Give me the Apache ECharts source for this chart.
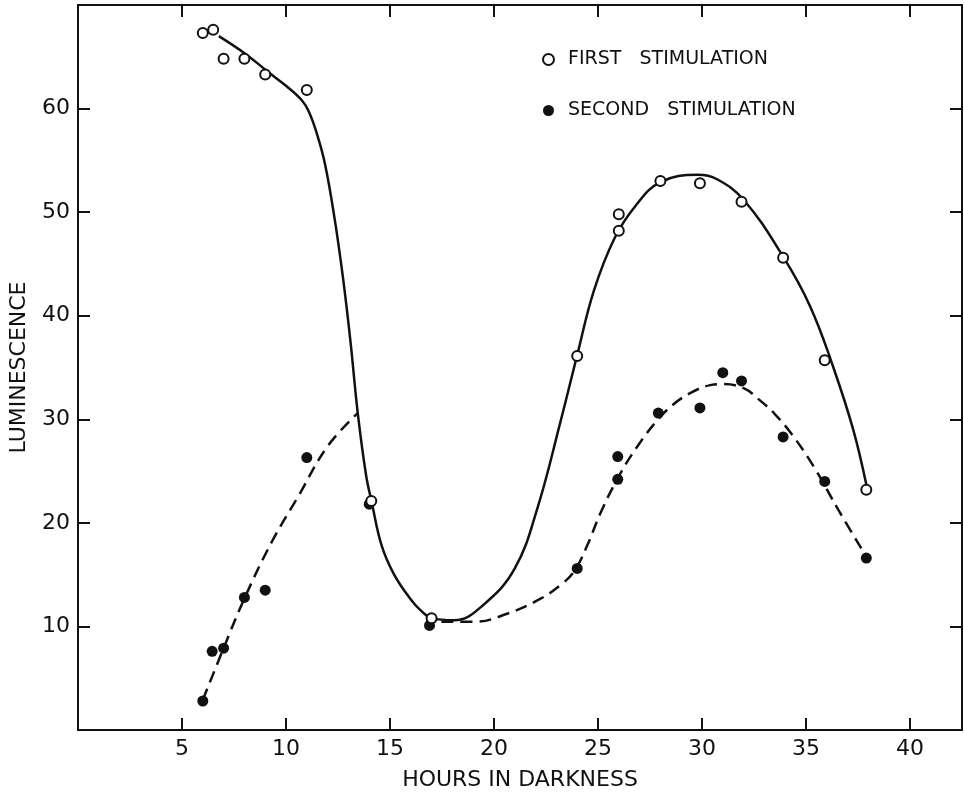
<!DOCTYPE html>
<html>
<head>
<meta charset="utf-8">
<title>Luminescence vs hours in darkness</title>
<script src="https://cdn.jsdelivr.net/npm/echarts@6/dist/echarts.min.js"></script>
<style>
  html, body { margin: 0; padding: 0; background: #fff; }
  #chart { width: 964px; height: 796px; }
</style>
</head>
<body>
<div id="chart"></div>
<script>
// measured points, [hours, luminescence]
const firstPoints = [
    [6, 67.3], [6.5, 67.6], [7, 64.8], [8, 64.8], [9, 63.3], [11, 61.8],
    [14.1, 22.1], [17, 10.8], [24, 36.1], [26, 48.2], [26, 49.8], [28, 53.0],
    [29.9, 52.8], [31.9, 51.0], [33.9, 45.6], [35.9, 35.7], [37.9, 23.2]
];
const secondPoints = [
    [6, 2.8], [6.45, 7.6], [7, 7.9], [8, 12.8], [9, 13.5], [11, 26.3],
    [14, 21.8], [16.9, 10.1], [24, 15.6], [25.95, 26.4], [25.95, 24.2], [27.9, 30.6],
    [29.9, 31.1], [31, 34.5], [31.9, 33.7], [33.9, 28.3], [35.9, 24.0], [37.9, 16.6]
];
// fitted curves
const firstCurve = [
    [6.77, 67.0], [8.04, 65.3], [9.16, 63.5], [10.0, 62.2], [10.76, 60.8], [11.1, 59.7],
    [11.45, 57.8], [11.87, 54.7], [12.35, 49.2], [12.75, 43.5], [13.1, 37.5], [13.45, 30.6],
    [13.85, 24.6], [14.11, 22.1], [14.6, 17.8], [15.2, 15.0], [16.0, 12.6], [16.5, 11.5],
    [17.0, 10.8], [18.1, 10.6], [19.5, 12.1], [21.0, 15.6], [22.1, 21.5], [23.2, 29.8],
    [24.0, 36.2], [24.8, 42.4], [25.8, 47.5], [26.8, 50.6], [28.0, 52.9],
    [29.8, 53.6], [30.7, 53.2], [32.0, 51.2], [33.9, 45.7], [35.2, 40.9], [36.3, 35.1],
    [37.27, 29.0], [37.91, 23.6]
];
const secondCurve = [
    [6.0, 2.9], [7.0, 7.9], [8.0, 12.7], [9.3, 18.1], [10.6, 22.6], [12.0, 27.4], [13.45, 30.6],
    null,
    [17.47, 10.45], [19.06, 10.45], [20.66, 11.25], [22.26, 12.7], [23.2, 14.0], [23.85, 15.3],
    [24.5, 17.9], [25.13, 21.0], [26.0, 24.5], [26.9, 27.4], [27.85, 29.9], [28.6, 31.4],
    [29.5, 32.6], [30.4, 33.3], [31.0, 33.4], [32.0, 33.0], [32.8, 31.8], [33.5, 30.5],
    [34.3, 28.6], [35.35, 25.5], [36.63, 21.0], [37.94, 16.6]
];
const xTicks = [5, 10, 15, 20, 25, 30, 35, 40];
const yTicks = [10, 20, 30, 40, 50, 60];

const FONT = 'DejaVu Sans';
const INK = '#111';

const chart = echarts.init(document.getElementById('chart'), null, { renderer: 'canvas' });

function axisBase (ticks, showLabels) {
    return {
        axisLine: { show: true, onZero: false, lineStyle: { color: INK, width: 2 } },
        axisTick: { show: true, inside: true, length: 12, customValues: ticks, lineStyle: { color: INK, width: 2 } },
        axisLabel: {
            show: showLabels,
            customValues: ticks,
            color: INK,
            fontFamily: FONT,
            fontSize: 22,
            margin: 8
        },
        splitLine: { show: false }
    };
}

const options = {
    backgroundColor: '#fff',
    animation: false,
    textStyle: { fontFamily: FONT },
    grid: { left: 76, right: 2, top: 5, bottom: 64, containLabel: false },
    legend: {
        orient: 'vertical',
        left: 537,
        top: 45,
        itemWidth: 11,
        itemHeight: 11,
        itemGap: 32,
        textStyle: { fontFamily: FONT, fontSize: 19, color: INK, padding: [0, 0, 0, 9] },
        data: [
            {
                name: 'FIRST   STIMULATION',
                icon: 'circle',
                itemStyle: { color: '#fff', borderColor: INK, borderWidth: 2, opacity: 1 }
            },
            {
                name: 'SECOND   STIMULATION',
                icon: 'circle',
                itemStyle: { color: INK, opacity: 1 }
            }
        ]
    },
    xAxis: [
        Object.assign(axisBase(xTicks, true), {
            type: 'value', min: 0, max: 42.5, position: 'bottom',
            name: 'HOURS IN DARKNESS', nameLocation: 'middle', nameGap: 39,
            nameTextStyle: { fontFamily: FONT, fontSize: 22, color: INK }
        }),
        Object.assign(axisBase(xTicks, false), {
            type: 'value', min: 0, max: 42.5, position: 'top'
        })
    ],
    yAxis: [
        Object.assign(axisBase(yTicks, true), {
            type: 'value', min: 0, max: 70, position: 'left',
            name: 'LUMINESCENCE', nameLocation: 'middle', nameGap: 48, nameRotate: 90,
            nameTextStyle: { fontFamily: FONT, fontSize: 22, color: INK }
        }),
        Object.assign(axisBase(yTicks, false), {
            type: 'value', min: 0, max: 70, position: 'right'
        })
    ],
    series: [
        {
            name: 'first curve',
            type: 'line',
            data: firstCurve,
            smooth: 0.4,
            showSymbol: false,
            symbol: 'none',
            lineStyle: { color: INK, width: 2.5 },
            z: 2
        },
        {
            name: 'second curve',
            type: 'line',
            data: secondCurve,
            smooth: 0.4,
            connectNulls: false,
            showSymbol: false,
            symbol: 'none',
            lineStyle: { color: INK, width: 2.5, type: [12, 7] },
            z: 2
        },
        {
            name: 'FIRST   STIMULATION',
            type: 'scatter',
            data: firstPoints,
            symbol: 'circle',
            symbolSize: 10,
            itemStyle: { color: '#fff', borderColor: INK, borderWidth: 2, opacity: 1 },
            z: 4
        },
        {
            name: 'SECOND   STIMULATION',
            type: 'scatter',
            data: secondPoints,
            symbol: 'circle',
            symbolSize: 11,
            itemStyle: { color: INK, opacity: 1 },
            z: 3
        }
    ]
};

chart.setOption(options);
window.onresize = function () {
    chart.resize();
};
</script>
</body>
</html>
